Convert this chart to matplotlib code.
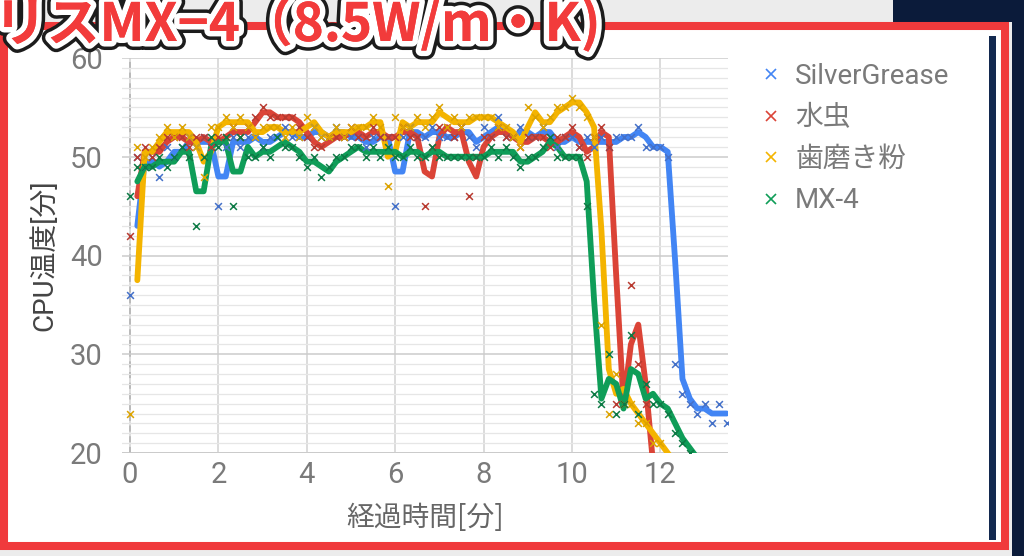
import numpy as np
import pandas as pd
import matplotlib
matplotlib.use("Agg")
import matplotlib.pyplot as plt
import matplotlib.patheffects as pe
from matplotlib.patches import Rectangle
from matplotlib.lines import Line2D

# CPU temperature, one sample every 10 s (1/6 min)
step = 1 / 6
silver = [36, 50, 49, 50, 48, 51, 50, 51, 52, 51, 52, 51, 45, 51, 52, 51, 52, 52, 51, 52,
          52, 53, 52, 52, 52, 53, 52, 52, 53, 52, 52, 52, 51, 52, 52, 52, 45, 52, 53, 52,
          52, 53, 52, 52, 52, 53, 52, 51, 53, 52, 54, 52, 52, 53, 52, 52, 53, 52, 51, 52,
          52, 51, 52, 51, 52, 51, 52, 52, 52, 53, 51, 51, 51, 50, 29, 26, 25, 24, 25, 23,
          25, 23]
mizumushi = [42, 50, 51, 50, 51, 52, 52, 52, 51, 52, 52, 51, 52, 52, 53, 52, 53, 54, 55, 54,
             54, 54, 54, 53, 52, 51, 51, 52, 52, 52, 53, 52, 52, 53, 52, 52, 52, 53, 52, 52,
             45, 51, 53, 53, 52, 53, 46, 50, 52, 52, 53, 52, 52, 51, 52, 52, 52, 51, 52, 52,
             53, 51, 50, 52, 53, 51, 25, 25, 37, 29, 25, 13]
hamigaki = [24, 51, 50, 51, 52, 53, 52, 53, 52, 51, 48, 53, 53, 54, 53, 54, 53, 52, 53, 53,
            53, 52, 53, 52, 54, 53, 52, 52, 53, 52, 53, 53, 53, 54, 53, 47, 54, 53, 53, 54,
            53, 54, 55, 53, 54, 53, 54, 54, 54, 54, 53, 53, 52, 51, 55, 54, 53, 54, 55, 55,
            56, 55, 54, 52, 33, 24, 28, 25, 25, 23, 23, 21, 21, 19, 19, 17]
mx4 = [46, 49, 49, 49, 50, 49, 50, 51, 50, 43, 50, 52, 51, 52, 45, 52, 50, 50, 51, 50,
       52, 51, 51, 50, 49, 50, 48, 49, 50, 50, 51, 51, 50, 51, 50, 51, 50, 50, 51, 50,
       50, 51, 50, 50, 50, 50, 50, 50, 50, 51, 50, 51, 50, 49, 50, 50, 51, 52, 50, 50,
       50, 50, 45, 26, 25, 30, 24, 25, 32, 24, 27, 25, 25, 24, 22, 21, 20, 19, 18]

names = ["SilverGrease", "水虫", "歯磨き粉", "MX-4"]
colors = ["#4285F4", "#DB4437", "#F4B400", "#0F9D58"]
mark_colors = ["#4470c8", "#b83a30", "#dca300", "#0d7a45"]
x_ticks = [0, 2, 4, 6, 8, 10, 12]
y_ticks = [20, 30, 40, 50, 60]

plt.rcParams["font.family"] = ["Roboto", "Noto Sans CJK JP"]

W, H = 1024, 556
fig = plt.figure(figsize=(W / 100, H / 100), dpi=100)
fig.patch.set_facecolor("#ececec")

def fx(px):
    return px / W

def fy(py):
    return 1 - py / H

# background bits of the video frame
fig.patches.append(Rectangle((fx(893), fy(22)), fx(131), 22 / H, transform=fig.transFigure,
                             facecolor="#0b1b3a", edgecolor="none", zorder=0))
fig.patches.append(Rectangle((fx(1012), 0), fx(12), 1, transform=fig.transFigure,
                             facecolor="#0b1b3a", edgecolor="none", zorder=0))
fig.patches.append(Rectangle((fx(4), fy(546)), fx(1001), (546 - 26) / H, transform=fig.transFigure,
                             facecolor="white", edgecolor="#f03a3c", linewidth=5.8, zorder=0))
fig.patches.append(Rectangle((fx(989), fy(540)), fx(7), (540 - 36) / H, transform=fig.transFigure,
                             facecolor="#13294f", edgecolor="none", zorder=0))

ax = fig.add_axes([fx(122), fy(453), fx(728 - 122), (453 - 58) / H])
ax.set_zorder(1)
ax.set_facecolor("white")

gray = "#7a7a7a"
ax.set_xlim(-0.18, 13.53)
ax.set_ylim(20, 60)
ax.set_xticks(x_ticks)
ax.set_yticks(y_ticks)
ax.set_yticks(np.arange(20, 61, 1), minor=True)
ax.grid(axis="y", which="minor", color="#e6e6e6", linewidth=0.9)
ax.grid(axis="y", which="major", color="#cccccc", linewidth=1.1)
ax.grid(axis="x", which="major", color="#d2d2d2", linewidth=1.1)
ax.tick_params(which="both", length=0, colors=gray, labelsize=21)
ax.tick_params(axis="y", pad=14)
ax.tick_params(axis="x", pad=6)
for s in ax.spines.values():
    s.set_visible(False)
ax.axhline(20, color="#bdbdbd", linewidth=1.2, zorder=1)
ax.axvline(0, color="#444444", linewidth=1.1, linestyle=(0, (4, 3)), zorder=1)

series = [silver, mizumushi, hamigaki, mx4]
for vals, c, mc in zip(series, colors, mark_colors):
    t = np.arange(len(vals)) * step
    trend = pd.Series(vals).rolling(2).mean()
    ax.plot(t, trend, color=c, linewidth=4.2, solid_joinstyle="round",
            solid_capstyle="round", zorder=3)
    ax.scatter(t, vals, marker="x", s=24, color=mc, linewidths=1.1, zorder=4)

ax.set_xlabel("経過時間[分]", fontsize=20, color="#666666", family=["Noto Sans CJK JP"], labelpad=10)
ax.set_ylabel("CPU温度[分]", fontsize=20, color="#444444", family=["Roboto", "Noto Sans CJK JP"], labelpad=8)

handles = [Line2D([], [], linestyle="none", marker="x", markersize=7, markeredgewidth=1.2, color=c)
           for c in colors]
ax.legend(handles, names, loc="upper left", bbox_to_anchor=(fx(752), fy(52)),
          bbox_transform=fig.transFigure, frameon=False, fontsize=20, labelcolor=gray,
          handlelength=0.6, handletextpad=0.55, labelspacing=0.52, borderaxespad=0)

fig.text(fx(-6), fy(41), "リスMX−4（8.5W/m・K)", fontsize=38, weight="bold", color="#f23b3b",
         family=["Noto Sans CJK JP"], zorder=5,
         path_effects=[pe.withStroke(linewidth=13, foreground="#1c1c1c"),
                       pe.withStroke(linewidth=8, foreground="white"), pe.Normal()])

fig.savefig("out.png", dpi=100, facecolor=fig.get_facecolor())
